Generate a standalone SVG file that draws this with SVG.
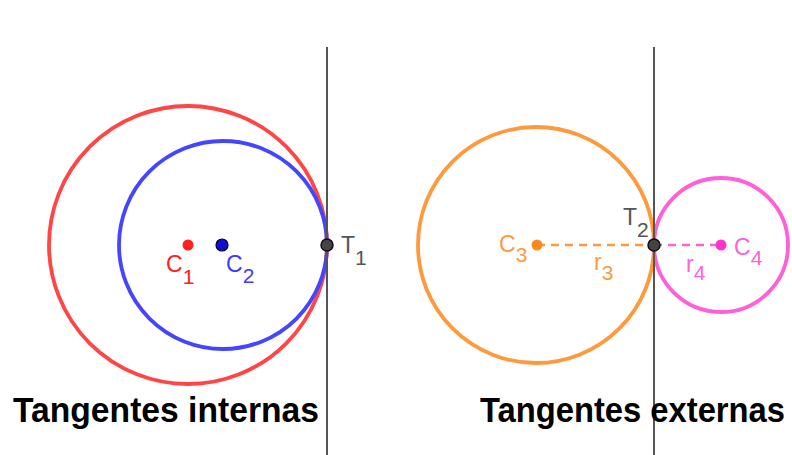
<svg xmlns="http://www.w3.org/2000/svg" width="792" height="455" viewBox="0 0 792 455">
<style>
.lbl{font-family:"Liberation Sans",Arial,sans-serif;font-size:23px}
.sub{font-size:21px}
.title{font-family:"Liberation Sans",Arial,sans-serif;font-size:35px;font-weight:bold;fill:#000}
.circ{fill:none;stroke-width:3.8}
.tline{stroke:#555;stroke-width:2}
.dash{stroke-width:2.5;stroke-dasharray:8 6}
.tpt{fill:#444;stroke:#111;stroke-width:1.5}
</style>
<rect width="792" height="455" fill="#fff"/>
<g id="circle-red"><circle class="circ" cx="188" cy="245" r="139" stroke="#ff4545"/></g>
<g id="circle-blue"><circle class="circ" cx="223" cy="245" r="104" stroke="#4545ff"/></g>
<g id="circle-orange"><circle class="circ" cx="536" cy="245" r="118" stroke="#ff9a3c"/></g>
<g id="circle-pink"><circle class="circ" cx="721" cy="245" r="67" stroke="#ff5fd8"/></g>
<g id="connectors">
<line class="tline" x1="327" y1="47" x2="327" y2="455"/>
<line class="tline" x1="654" y1="47" x2="654" y2="455"/>
<line class="dash" x1="537" y1="245" x2="654" y2="245" stroke="#ff9a3c"/>
<line class="dash" x1="654" y1="245" x2="721" y2="245" stroke="#ff5fd8"/>
</g>
<g id="C1"><circle cx="188" cy="245" r="5.5" fill="#ff2020"/><text class="lbl" x="166" y="272" fill="#ff2020">C<tspan class="sub" dy="12">1</tspan></text></g>
<g id="C2"><circle cx="222" cy="245" r="6" fill="#1010d0" stroke="#000033" stroke-width="1.2"/><text class="lbl" x="226" y="272" fill="#3a3aff">C<tspan class="sub" dy="11">2</tspan></text></g>
<g id="T1"><circle class="tpt" cx="327" cy="245" r="6"/><text class="lbl" x="341" y="253" fill="#555">T<tspan class="sub" dy="12">1</tspan></text></g>
<g id="C3"><circle cx="537" cy="245" r="5.5" fill="#ff8a1c"/><text class="lbl" x="499" y="252" fill="#ff9a3c">C<tspan class="sub" dy="10">3</tspan></text></g>
<g id="r3"><text class="lbl" x="594" y="270" fill="#ff9a3c">r<tspan class="sub" dy="10">3</tspan></text></g>
<g id="T2"><circle class="tpt" cx="654" cy="245" r="6"/><text class="lbl" x="623" y="225" fill="#555">T<tspan class="sub" dy="12">2</tspan></text></g>
<g id="C4"><circle cx="721" cy="245" r="5.5" fill="#ff33cc"/><text class="lbl" x="734" y="255" fill="#ff5fd8">C<tspan class="sub" dy="10">4</tspan></text></g>
<g id="r4"><text class="lbl" x="686" y="272" fill="#ff5fd8">r<tspan class="sub" dy="8">4</tspan></text></g>
<g id="title-internas"><text class="title" x="13" y="422" textLength="306" lengthAdjust="spacingAndGlyphs">Tangentes internas</text></g>
<g id="title-externas"><text class="title" x="480" y="422" textLength="305" lengthAdjust="spacingAndGlyphs">Tangentes externas</text></g>
</svg>
